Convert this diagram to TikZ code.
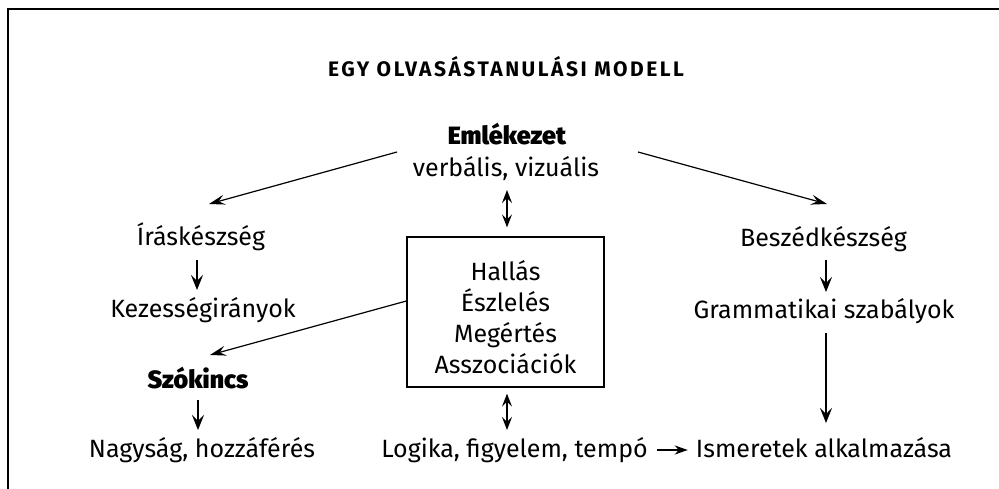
\documentclass[tikz,border=0pt]{standalone}
\usepackage{fontspec}
\setmainfont{Fira Sans}
\IfFontExistsTF{Fira Sans Black}{\newfontfamily\heavyfont{Fira Sans Black}}{%
  \IfFontExistsTF{Fira Sans ExtraBold}{\newfontfamily\heavyfont{Fira Sans ExtraBold}}{\newcommand\heavyfont{\bfseries}}}
\usetikzlibrary{arrows.meta}
\tikzset{
  lbl/.style={inner sep=0pt, anchor=base, font=\fontsize{25}{29}\selectfont},
  blbl/.style={lbl, font=\fontsize{25}{29}\selectfont\heavyfont},
  arr/.style={line width=1.2pt, -{Stealth[length=15pt,width=12pt,inset=6pt]}},
  darr/.style={line width=1.2pt, {Stealth[length=13pt,width=10pt,inset=5pt]}-{Stealth[length=13pt,width=10pt,inset=5pt]}},
  diag/.style={line width=1.2pt, -{Stealth[length=16pt,width=10pt,inset=6pt]}},
  harr/.style={line width=1.8pt, -{Stealth[length=13pt,width=9pt,inset=4pt]}},
  boxst/.style={draw, line width=1.3pt, minimum width=197pt, minimum height=150pt, inner sep=0pt},
  boxtext/.style={inner sep=0pt, align=center, font=\fontsize{25}{31}\selectfont},
}
\begin{document}
\begin{tikzpicture}[x=1pt,y=-1pt]
\useasboundingbox (0,0) rectangle (999,489);
\draw[line width=1.8pt] (999,9) -- (8,9) -- (8,489);
\node[lbl, font=\fontsize{21}{24}\selectfont\bfseries\addfontfeatures{LetterSpace=12}] (title) at (506,77) {EGY OLVASÁSTANULÁSI MODELL};
\node[blbl] (em) at (507,145) {Emlékezet};
\node[lbl] (verb) at (506,177) {verbális, vizuális};
\node[boxst] (box) at (505.5,312) {};
\node[boxtext] (boxt) at ([shift={(0,5)}]box.center) {Hallás\\Észlelés\\Megértés\\Asszociációk};
\node[lbl] (iras) at (201,246) {Íráskészség};
\node[lbl] (kez) at (203,317) {Kezességirányok};
\node[blbl] (szo) at (198,388) {Szókincs};
\node[lbl] (nagy) at (202,457) {Nagyság, hozzáférés};
\node[lbl] (log) at (514.5,457) {Logika, figyelem, tempó};
\node[lbl] (ism) at (824,457) {Ismeretek alkalmazása};
\node[lbl] (besz) at (823.5,247) {Beszédkészség};
\node[lbl] (gram) at (824,318) {Grammatikai szabályok};
% connectors
\draw[diag] ([shift={(-110,7)}]em.base) -- ([shift={(8,-42)}]iras.base);
\draw[diag] ([shift={(131,7)}]em.base) -- ([shift={(3.5,-43)}]besz.base);
\draw[arr] ([shift={(-4,14)}]iras.base) -- ([shift={(-6,-27)}]kez.base);
\draw[diag] ([shift={(0,-11)}]box.west) -- ([shift={(12,-33)}]szo.base);
\draw[arr] ([shift={(0,12)}]szo.base) -- ([shift={(-4,-27)}]nagy.base);
\draw[darr] ([shift={(1,13)}]verb.base) -- ([shift={(1.5,-9)}]box.north);
\draw[darr] ([shift={(1.5,6)}]box.south) -- ([shift={(-7.5,-27)}]log.base);
\draw[arr] ([shift={(2.5,13)}]besz.base) -- ([shift={(2,-26)}]gram.base);
\draw[arr] ([shift={(2,15)}]gram.base) -- ([shift={(2,-34)}]ism.base);
\draw[harr] ([shift={(9,-7)}]log.base east) -- ([shift={(-8,-7)}]ism.base west);
\end{tikzpicture}
\end{document}
